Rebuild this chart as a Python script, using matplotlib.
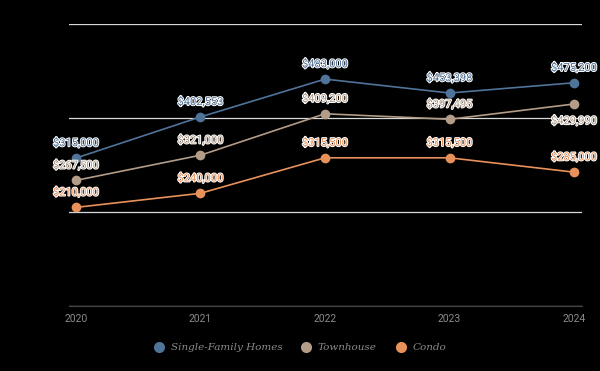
import matplotlib
matplotlib.use("Agg")
import matplotlib.pyplot as plt
import matplotlib.patheffects as pe
from matplotlib.ticker import FuncFormatter

years = [2020, 2021, 2022, 2023, 2024]
single_family = [315000, 402553, 483000, 453398, 475200]
townhouse = [267500, 321000, 409200, 397495, 429990]
condo = [210000, 240000, 315500, 315500, 285000]
series_names = ["Single-Family Homes", "Townhouse", "Condo"]
colors = ["#4f7399", "#b39c88", "#e8915a"]
yticks = [0, 200000, 400000, 600000]

fig = plt.figure(figsize=(6.0, 3.71), dpi=100)
fig.patch.set_facecolor("black")
ax = fig.add_axes([0.115, 0.175, 0.855, 0.76])
ax.set_facecolor("black")

all_series = [single_family, townhouse, condo]
# label offsets in points (dy); negative means below
offsets = [
    [11, 11, 11, 11, 11],
    [11, 11, 11, 11, -12],
    [11, 11, 11, 11, 11],
]
lab_font = ["Roboto", "DejaVu Sans"]
for vals, name, col, offs in zip(all_series, series_names, colors, offsets):
    ax.plot(years, vals, color=col, lw=1.2, marker="o", markersize=7,
            markeredgewidth=0, label=name, zorder=3)
    for x, v, dy in zip(years, vals, offs):
        t = ax.annotate(f"${v:,.0f}", (x, v), xytext=(0, dy), textcoords="offset points",
                        ha="center", va="center", fontsize=8, color=col,
                        family=lab_font, zorder=4)
        t.set_path_effects([pe.withStroke(linewidth=1.4, foreground="white")])

ax.set_xlim(2019.944, 2024.064)
ax.set_ylim(0, 600000)
ax.set_yticks(yticks)
ax.yaxis.grid(True, color="#d9d9d9", lw=0.9)
ax.set_axisbelow(True)
ax.yaxis.set_major_formatter(FuncFormatter(lambda v, p: ""))
ax.tick_params(axis="y", length=0)
ax.set_xticks(years)
ax.set_xticklabels([str(y) for y in years], family=lab_font,
                   fontsize=7.5, color="#8a8a8a")
ax.tick_params(axis="x", length=0, pad=6)
for s in ["top", "right", "left"]:
    ax.spines[s].set_visible(False)
ax.spines["bottom"].set_color("#444444")
ax.spines["bottom"].set_linewidth(0.8)

leg = fig.legend(loc="lower center", bbox_to_anchor=(0.5, 0.025), ncol=3, frameon=False,
                 prop={"family": "DejaVu Serif", "style": "italic", "size": 7.5},
                 handlelength=1.0, handletextpad=0.6, columnspacing=1.8)
for h in leg.legend_handles:
    h.set_linestyle("None")
    h.set_markersize(8)
for t in leg.get_texts():
    t.set_color("#8a8a8a")

fig.savefig("out.png", dpi=100, facecolor="black")
